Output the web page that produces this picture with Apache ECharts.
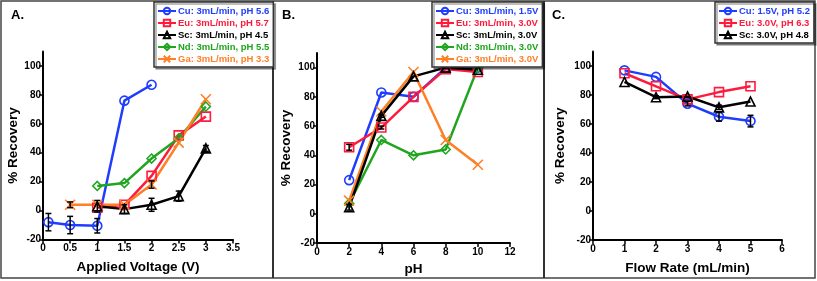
<!DOCTYPE html>
<html><head><meta charset="utf-8">
<script src="https://cdn.jsdelivr.net/npm/echarts@6/dist/echarts.min.js"></script>
<style>html,body{margin:0;padding:0;background:#fff}#c{width:817px;height:281px}</style>
</head><body><div id="c"></div>
<script>
// ---------- data ----------
const yTicks = [-20, 0, 20, 40, 60, 80, 100];
// Panel A: Applied Voltage (V)
const cuA_x = [0.1, 0.5, 1, 1.5, 2],       cuA_y = [-8, -10, -10.5, 76, 87],   cuA_e = [6, 6, 5, 0, 0];
const euA_x = [1, 1.5, 2, 2.5, 3],         euA_y = [2, 4, 24, 52, 65],         euA_e = [0, 0, 0, 0, 0];
const scA_x = [1, 1.5, 2, 2.5, 3],         scA_y = [3, 1, 4, 10, 43],          scA_e = [4, 3, 4.5, 3.5, 2];
const ndA_x = [1, 1.5, 2, 2.5, 3],         ndA_y = [17, 19, 36, 50, 72],       ndA_e = [0, 0, 0, 0, 0];
const gaA_x = [0.5, 1, 1.5, 2, 2.5, 3],    gaA_y = [4, 4, 4, 18, 47, 77],      gaA_e = [2, 0, 0, 2.5, 0, 0];
// Panel B: pH
const pH = [2, 4, 6, 8, 10];
const cuB_y = [23, 83, 80, 100, 100],   cuB_e = [0, 0, 0, 0, 0];
const euB_y = [45.5, 59, 80, 99, 97],   euB_e = [2, 1, 0, 0, 0];
const scB_y = [4.5, 67, 94, 100, 98.5], scB_e = [2, 1, 0, 0, 0];
const ndB_y = [7, 50.5, 40, 44, 100],   ndB_e = [0, 0, 0, 0, 0];
const gaB_y = [9, 70, 97, 50.5, 33.5],  gaB_e = [0, 0, 0, 0, 0];
// Panel C: Flow Rate (mL/min)
const flow = [1, 2, 3, 4, 5];
const cuC_y = [97, 92.5, 74, 65, 62],   cuC_e = [0, 0, 1.5, 3, 4];
const euC_y = [95, 86, 77, 82, 86],     euC_e = [0, 0, 0, 0, 0];
const scC_y = [89, 78.5, 79, 71.5, 75.5], scC_e = [0, 1, 0, 1.5, 0];

const namesA = ['Cu: 3mL/min, pH 5.6', 'Eu: 3mL/min, pH 5.7', 'Sc: 3mL/min, pH 4.5', 'Nd: 3mL/min, pH 5.5', 'Ga: 3mL/min, pH 3.3'];
const namesB = ['Cu: 3mL/min, 1.5V', 'Eu: 3mL/min, 3.0V', 'Sc: 3mL/min, 3.0V', 'Nd: 3mL/min, 3.0V', 'Ga: 3mL/min, 3.0V'];
const namesC = ['Cu: 1.5V, pH 5.2', 'Eu: 3.0V, pH 6.3', 'Sc: 3.0V, pH 4.8'];

// ---------- styles ----------
const FONT = 'Liberation Sans, Arial, Helvetica, sans-serif';
const COL = { Cu: '#1f3dff', Eu: '#ff1a3c', Sc: '#000000', Nd: '#1fa51f', Ga: '#ff7f27' };
const SYM = {
  Cu: 'circle', Eu: 'rect', Sc: 'triangle', Nd: 'diamond',
  Ga: 'path://M0,0L10,10M10,0L0,10'
};
const SYMSIZE = { Cu: 9, Eu: 9, Sc: 9, Nd: 9, Ga: 10 };

function zip(xs, ys) { return xs.map((x, i) => [x, ys[i]]); }
function errData(xs, ys, es) { return xs.map((x, i) => [x, ys[i] - es[i], ys[i] + es[i]]); }

const series = [];
function addLine(idx, el, name, xs, ys, es) {
  const c = COL[el];
  series.push({
    type: 'line', name: name, xAxisIndex: idx, yAxisIndex: idx,
    data: zip(xs, ys), symbol: SYM[el], symbolSize: SYMSIZE[el],
    lineStyle: { color: c, width: 2.5 },
    itemStyle: { color: 'rgba(255,255,255,0)', borderColor: c, borderWidth: 1.6 },
    color: c, z: 2, animation: false
  });
  series.push({
    type: 'custom', xAxisIndex: idx, yAxisIndex: idx, z: 3, silent: true, animation: false,
    data: errData(xs, ys, es), encode: { x: 0, y: [1, 2] },
    renderItem: function (params, api) {
      const x = api.value(0);
      if (api.value(1) === api.value(2)) return null;
      const lo = api.coord([x, api.value(1)]);
      const hi = api.coord([x, api.value(2)]);
      const st = { stroke: '#000', lineWidth: 1.5 };
      return { type: 'group', children: [
        { type: 'line', shape: { x1: lo[0], y1: lo[1], x2: hi[0], y2: hi[1] }, style: st },
        { type: 'line', shape: { x1: lo[0] - 3, y1: lo[1], x2: lo[0] + 3, y2: lo[1] }, style: st },
        { type: 'line', shape: { x1: hi[0] - 3, y1: hi[1], x2: hi[0] + 3, y2: hi[1] }, style: st }
      ]};
    }
  });
}
const els5 = ['Cu', 'Eu', 'Sc', 'Nd', 'Ga'];
addLine(0, 'Cu', namesA[0], cuA_x, cuA_y, cuA_e);
addLine(0, 'Eu', namesA[1], euA_x, euA_y, euA_e);
addLine(0, 'Nd', namesA[3], ndA_x, ndA_y, ndA_e);
addLine(0, 'Ga', namesA[4], gaA_x, gaA_y, gaA_e);
addLine(0, 'Sc', namesA[2], scA_x, scA_y, scA_e);

addLine(1, 'Cu', namesB[0], pH, cuB_y, cuB_e);
addLine(1, 'Eu', namesB[1], pH, euB_y, euB_e);
addLine(1, 'Nd', namesB[3], pH, ndB_y, ndB_e);
addLine(1, 'Ga', namesB[4], pH, gaB_y, gaB_e);
addLine(1, 'Sc', namesB[2], pH, scB_y, scB_e);

addLine(2, 'Cu', namesC[0], flow, cuC_y, cuC_e);
addLine(2, 'Eu', namesC[1], flow, euC_y, euC_e);
addLine(2, 'Sc', namesC[2], flow, scC_y, scC_e);

function mkLegend(names, els, left, top) {
  return {
    orient: 'vertical', left: left, top: top, itemWidth: 18, itemHeight: 8, itemGap: 2,
    padding: [4, 4, 3, 3], borderColor: '#333', borderWidth: 1.5, backgroundColor: '#fff',
    shadowColor: 'rgba(0,0,0,0.35)', shadowOffsetX: 2, shadowOffsetY: 2, shadowBlur: 0,
    selectedMode: false,
    textStyle: { fontFamily: FONT, fontSize: 9.5, fontWeight: 'bold', padding: [0, 0, 0, -3] },
    data: names.map((n, i) => ({ name: n, textStyle: { color: COL[els[i]] } }))
  };
}

const grids = [
  { left: 43, top: 51.5, width: 190, height: 188 },
  { left: 317, top: 53, width: 193, height: 193 },
  { left: 593, top: 51.5, width: 189, height: 188.5 }
];
const xCfg = [
  { min: 0, max: 3.5, interval: 0.5, name: 'Applied Voltage (V)', gap: 21 },
  { min: 0, max: 12, interval: 2, name: 'pH', gap: 19 },
  { min: 0, max: 6, interval: 1, name: 'Flow Rate (mL/min)', gap: 21 }
];
const yGaps = [14, 24, 26];

const axisCommon = {
  axisLine: { show: true, onZero: false, lineStyle: { color: '#000', width: 2 } },
  axisTick: { show: true, inside: false, length: 4, lineStyle: { color: '#000', width: 1.5 } },
  splitLine: { show: false },
  nameTextStyle: { fontFamily: FONT, fontSize: 13.5, fontWeight: 'bold', color: '#000' }
};

const option = {
  animation: false,
  grid: grids,
  xAxis: xCfg.map((c, i) => Object.assign({}, axisCommon, {
    type: 'value', gridIndex: i, min: c.min, max: c.max, interval: c.interval,
    name: c.name, nameLocation: 'middle', nameGap: c.gap,
    axisLabel: { fontFamily: FONT, fontSize: 10, fontWeight: 'bold', color: '#000', margin: 4 }
  })),
  yAxis: [0, 1, 2].map(i => Object.assign({}, axisCommon, {
    type: 'value', gridIndex: i, min: -20, max: 110,
    name: '% Recovery', nameLocation: 'middle', nameGap: yGaps[i],
    axisTick: { show: true, inside: false, length: 4, customValues: yTicks, lineStyle: { color: '#000', width: 1.5 } },
    axisLabel: { fontFamily: FONT, fontSize: 10, fontWeight: 'bold', color: '#000', margin: 2, customValues: yTicks }
  })),
  legend: [
    mkLegend(namesA, els5, 154, 2),
    mkLegend(namesB, els5, 432, 2),
    mkLegend(namesC, ['Cu', 'Eu', 'Sc'], 715, 2)
  ],
  graphic: [
    { type: 'rect', shape: { x: 1, y: 1, width: 814, height: 277 }, style: { fill: 'none', stroke: '#444', lineWidth: 1.5 }, z: -1 },
    { type: 'line', shape: { x1: 273, y1: 1, x2: 273, y2: 278 }, style: { stroke: '#333', lineWidth: 2 }, z: -1 },
    { type: 'line', shape: { x1: 544, y1: 1, x2: 544, y2: 278 }, style: { stroke: '#333', lineWidth: 2 }, z: -1 },
    { type: 'text', left: 11, top: 9, style: { text: 'A.', font: 'bold 13px ' + FONT, fill: '#000' } },
    { type: 'text', left: 282, top: 9, style: { text: 'B.', font: 'bold 13px ' + FONT, fill: '#000' } },
    { type: 'text', left: 552, top: 9, style: { text: 'C.', font: 'bold 13px ' + FONT, fill: '#000' } }
  ],
  series: series
};
const chart = echarts.init(document.getElementById('c'), null, { renderer: 'canvas' });
chart.setOption(option);
</script></body></html>
